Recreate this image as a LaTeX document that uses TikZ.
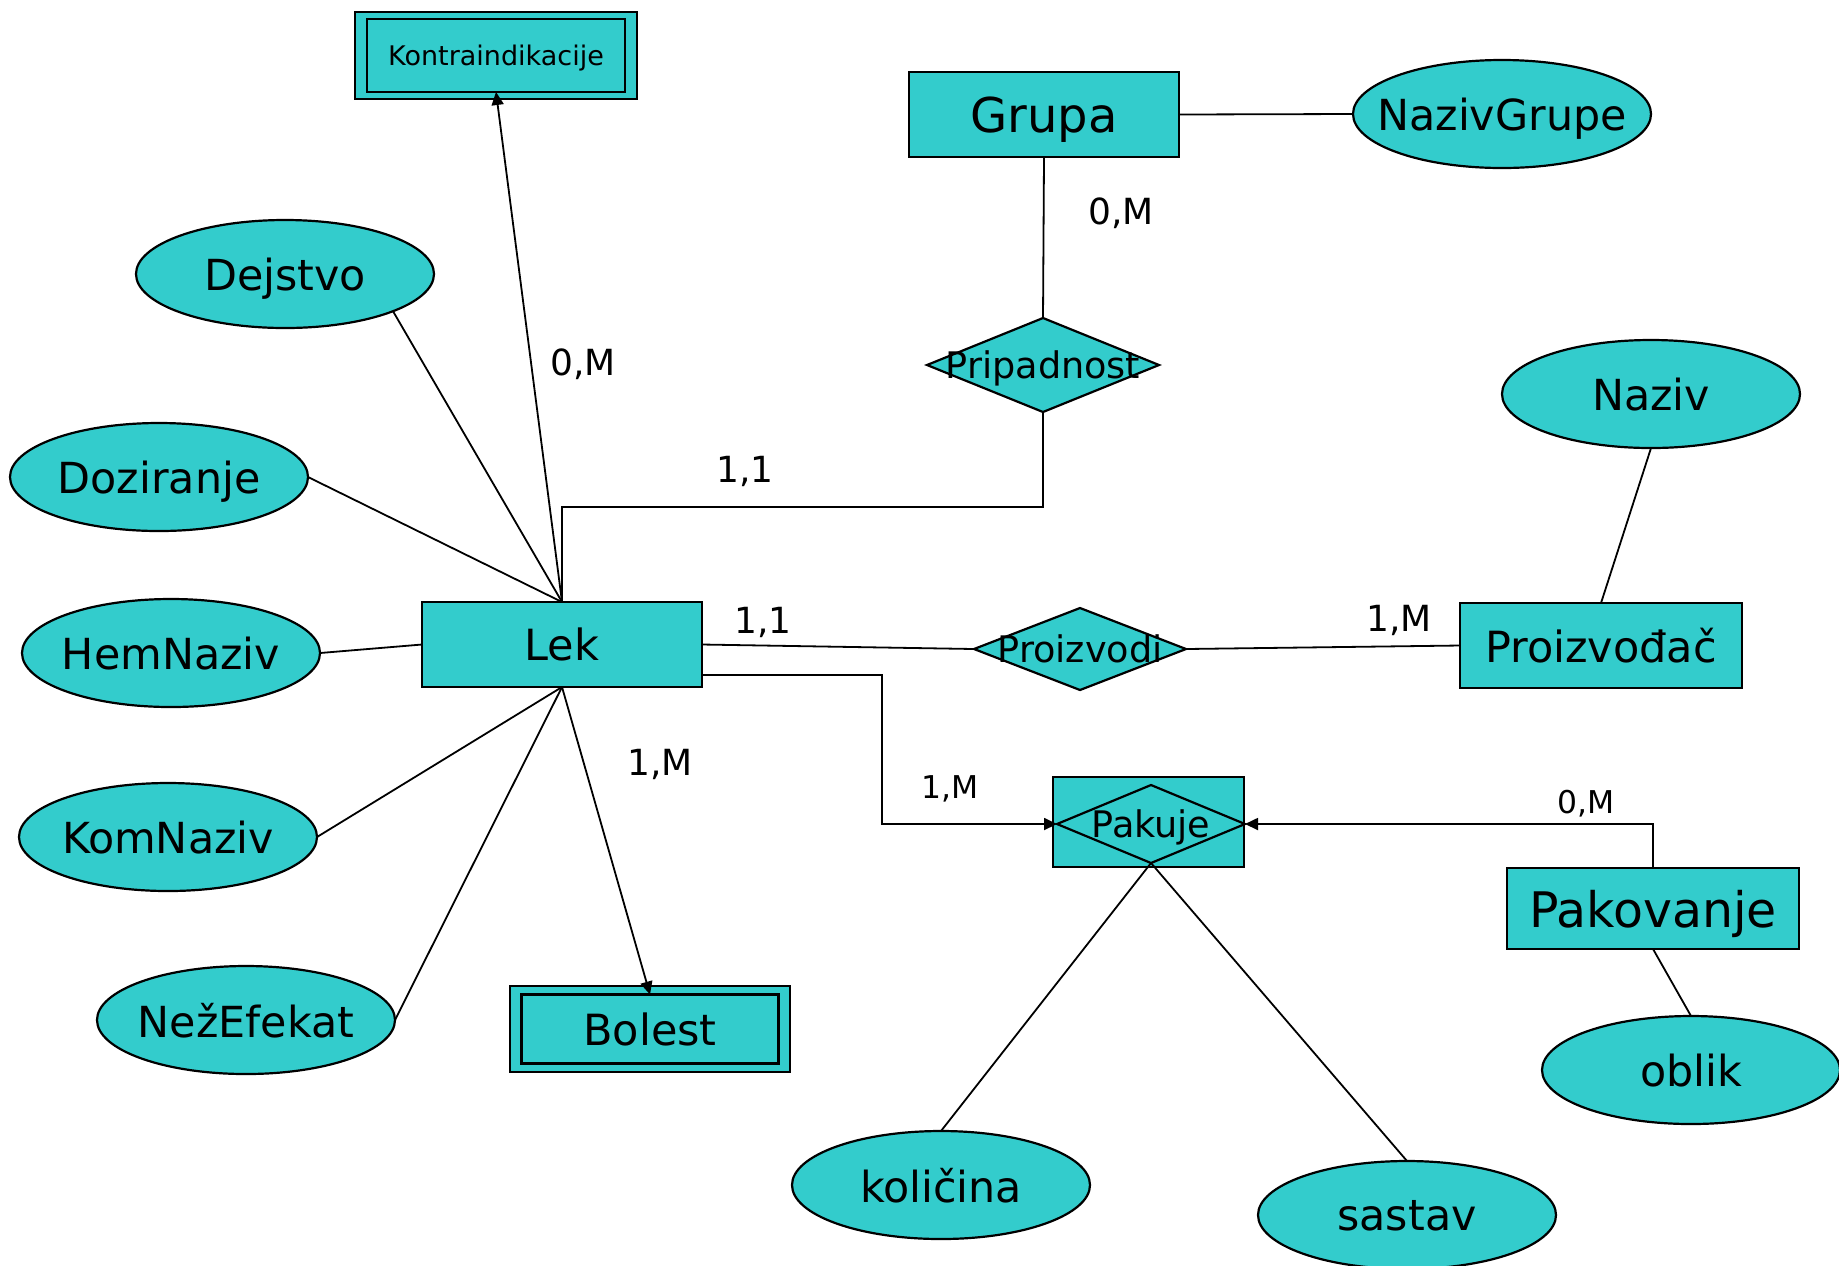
\documentclass[tikz,border=0pt]{standalone}
\usepackage{fontspec}
\setmainfont{DejaVu Sans}
\usetikzlibrary{shapes.geometric,arrows.meta,calc}
\definecolor{erfill}{RGB}{51,204,204}
\begin{document}
\begin{tikzpicture}[x=0.5pt,y=-0.5pt,
  every node/.append style={text depth=0pt},
  ent/.style={draw,fill=erfill,line width=1.1pt,rectangle,inner sep=0pt,outer sep=0pt},
  attr/.style={draw,fill=erfill,line width=1.1pt,ellipse,inner sep=0pt,outer sep=0pt,
    minimum width=149pt,minimum height=54pt},
  atxt/.style={font=\fontsize{21.4}{26}\selectfont},
  rtxt/.style={font=\fontsize{18.3}{22}\selectfont},
  rel/.style={draw,fill=erfill,line width=1.1pt,diamond,inner sep=0pt,outer sep=0pt},
  conn/.style={line width=0.9pt},
  tip/.style={-{Triangle[length=6.5pt,width=6pt]}},
  card/.style={font=\fontsize{18}{21}\selectfont},
  cardsm/.style={font=\fontsize{15.7}{19}\selectfont}]
\useasboundingbox (0,0) rectangle (1839,1265);

% entities
\node[ent,minimum width=141pt,minimum height=43.5pt] (kontra) at (496,55.5) {};
\node[ent,minimum width=129pt,minimum height=36.5pt,font=\fontsize{13.5}{16}\selectfont] (kontraIn) at (496,55.5) {Kontraindikacije};
\node[ent,minimum width=135pt,minimum height=42.5pt,font=\fontsize{24}{29}\selectfont] (grupa) at (1044,114.5) {Grupa};
\node[ent,minimum width=140pt,minimum height=42.5pt,font=\fontsize{21.5}{26}\selectfont] (lek) at (562,644.5) {Lek};
\node[ent,minimum width=140pt,minimum height=43pt] (bolest) at (650,1029) {};
\node[ent,minimum width=128.5pt,minimum height=34.5pt,font=\fontsize{21.5}{26}\selectfont] (bolestIn) at (650,1029) {Bolest};
\node[ent,minimum width=141pt,minimum height=42.5pt,font=\fontsize{21.5}{26}\selectfont] (proizvodjac) at (1601,645.5) {Proizvođač};
\node[ent,minimum width=146pt,minimum height=40.5pt,font=\fontsize{24.5}{29}\selectfont] (pakovanje) at (1653,908.5) {Pakovanje};

% attributes
\node[attr,label={[atxt]center:NazivGrupe}] (nazivGrupe) at (1502,114) {};
\node[attr,label={[atxt]center:Dejstvo}] (dejstvo) at (285,274) {};
\node[attr,label={[atxt]center:Doziranje}] (doziranje) at (159,477) {};
\node[attr,label={[atxt]center:HemNaziv}] (hemNaziv) at (171,653) {};
\node[attr,label={[atxt]center:KomNaziv}] (komNaziv) at (168,837) {};
\node[attr,label={[atxt]center:NežEfekat}] (nezEfekat) at (246,1020) {};
\node[attr,label={[atxt]center:Naziv}] (naziv) at (1651,394) {};
\node[attr,label={[atxt]center:oblik}] (oblik) at (1691,1070) {};
\node[attr,label={[atxt]center:količina}] (kolicina) at (941,1185) {};
\node[attr,label={[atxt]center:sastav}] (sastav) at (1407,1215) {};

% relationships
\node[rel,minimum width=116pt,minimum height=47pt,
  label={[rtxt]center:Pripadnost}] (prip) at (1043,365) {};
\node[rel,minimum width=106pt,minimum height=41pt,
  label={[rtxt]center:Proizvodi}] (proizvodi) at (1080,649) {};
\node[ent,minimum width=95.5pt,minimum height=45pt] (pakuje) at (1148.5,822) {};
\node[rel,minimum width=94pt,minimum height=39pt,fill=none,
  label={[rtxt]center:Pakuje}] (pakD) at (1151,824) {};

% bend points
\coordinate (pripBend) at ($(lek.north)+(0,-95)$);
\coordinate (lekPak) at ($(lek.south east)+(0,-12)$);
\coordinate (pakBend) at ($(pakD.west)+(-175,0)$);

% connectors
\draw[conn,tip] (lek.north) -- (kontraIn.south);
\draw[conn] (dejstvo.-19) -- (lek.north);
\draw[conn] (doziranje.east) -- (lek.north);
\draw[conn] (hemNaziv.east) -- (lek.west);
\draw[conn] (komNaziv.east) -- (lek.south);
\draw[conn] (nezEfekat.east) -- (lek.south);
\draw[conn,tip] (lek.south) -- (bolestIn.north);
\draw[conn] (grupa.east) -- (nazivGrupe.west);
\draw[conn] (grupa.south) -- (prip.north);
\draw[conn] (prip.south) |- (pripBend) -- (lek.north);
\draw[conn] (lek.east) -- (proizvodi.west);
\draw[conn] (proizvodi.east) -- (proizvodjac.west);
\draw[conn] (naziv.south) -- (proizvodjac.north);
\draw[conn,tip] (lekPak) -| (pakBend) -- (pakD.west);
\draw[conn,tip] (pakovanje.north) |- (pakD.east);
\draw[conn] (pakD.south) -- (kolicina.north);
\draw[conn] (pakD.south) -- (sastav.north);
\draw[conn] (pakovanje.south) -- (oblik.north);

% cardinalities
\node[card] (cKontra) at (583,362) {0,M};
\node[card] (cGrupa) at (1121,211) {0,M};
\node[card] (cPrip) at (745,469) {1,1};
\node[card] (cLekPr) at (763,620) {1,1};
\node[card] (cProiz) at (1399,618) {1,M};
\node[card] (cBolest) at (660,762) {1,M};
\node[cardsm] (cLekPak) at (950,787) {1,M};
\node[cardsm] (cPakov) at (1586,802) {0,M};
\end{tikzpicture}
\end{document}
